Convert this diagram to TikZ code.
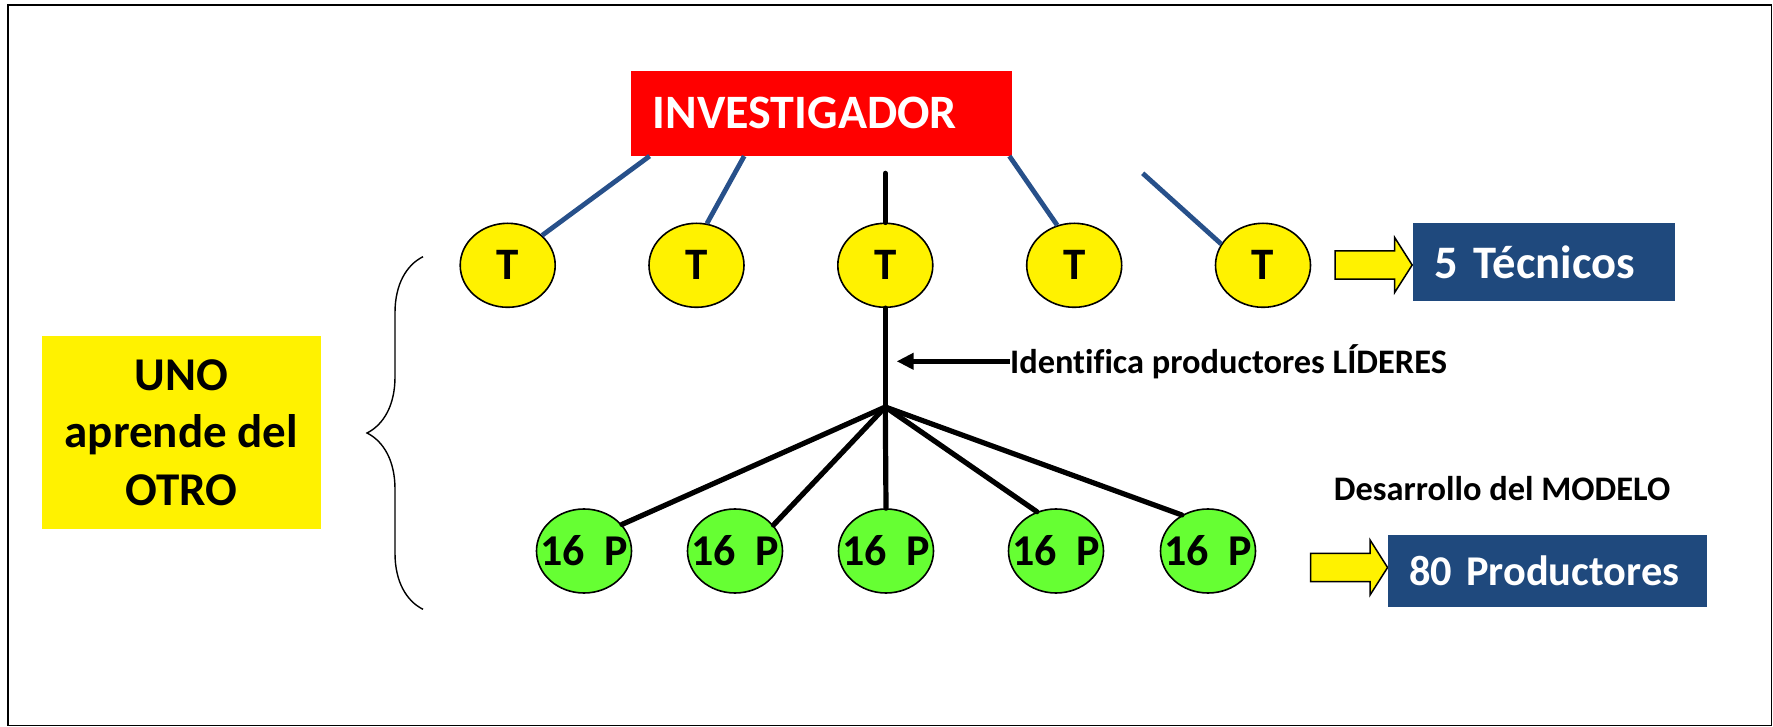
\documentclass[tikz,border=0pt]{standalone}
\usepackage{fontspec}
\setmainfont{Carlito}[Ligatures=NoCommon]
\usetikzlibrary{arrows.meta,shapes.geometric,shapes.arrows,%
	decorations.pathreplacing}
\usepackage{xcolor}
\definecolor{boxblue}{HTML}{1F497D}
\definecolor{lineblue}{HTML}{27508A}
\definecolor{prodgreen}{HTML}{66FF33}
\newcommand{\setfs}[2]{\fontsize{#1}{#2}\selectfont}

\tikzset{
	tecnode/.style={ellipse, draw, line width=0.8pt, fill=yellow,
		minimum width=47.5pt, minimum height=42pt, inner sep=0pt,
		font=\bfseries\setfs{22.5pt}{27pt}},
	prodnode/.style={ellipse, draw, line width=0.8pt, fill=prodgreen,
		minimum width=47.5pt, minimum height=42pt, inner sep=0pt,
		label={[font=\bfseries\setfs{22pt}{26pt}]center:#1}},
	bluebox/.style={fill=boxblue, text=white, align=left, inner ysep=0pt},
	yarrow/.style={single arrow, draw, line width=0.75pt, fill=yellow,
		minimum height=38.5pt, inner xsep=0pt, inner ysep=6.65pt,
		single arrow head extend=6.7pt, single arrow tip angle=115},
	tline/.style={lineblue, line width=2.4pt},
	pline/.style={line width=2.6pt, line cap=round},
	lbltext/.style={inner sep=0pt, font=\bfseries\setfs{17.2pt}{21pt}}
}

\begin{document}
\begin{tikzpicture}[x=0.5pt,y=-0.5pt]
	\useasboundingbox (0,0) rectangle (1773,727);
	\draw[line width=0.9pt] (8,5) rectangle (1771.5,725.5);
	
	\node[fill=red, text=white, align=left, minimum width=190.2pt, minimum height=42.35pt,
		text width=168.7pt, inner xsep=10.75pt, inner ysep=0pt,
		font=\bfseries\setfs{24pt}{28pt}] (inv) at (821.6,113.35) {INVESTIGADOR};
	\foreach \i/\x in {1/507.7,2/696.5,3/885.3,4/1074.2,5/1263}{
		\node[tecnode] (t\i) at (\x,265.3) {T};
	}
	\foreach \i/\x in {1/584,2/735,3/886,4/1056,5/1208}{
		\node[prodnode={16~~P}] (g\i) at (\x,551) {};
	}
	
	\coordinate (t3top) at (885.3,173.3);
	\coordinate (t5top) at (1142.7,173.3);
	\coordinate (hub) at (885.3,407);
	
	\draw[tline] ([xshift=9.3pt]inv.south west) -- (t1.41);
	\draw[tline] ([xshift=56.6pt]inv.south west) -- (t2.76);
	\draw[tline] ([xshift=-1.4pt]inv.south east) -- (t4.113);
	\draw[tline] (t5top) -- (t5.153);
	\draw[pline] (t3top) -- (t3.north);
	\draw[pline] (t3.south) -- (hub);
	\foreach \a/\j in {35/1,34/2,90/3,116/4,126/5}
		\draw[pline] (hub) -- (g\j.\a);
	
	\node[lbltext, anchor=west] (lid) at (1009.7,361.3) {Identifica productores LÍDERES};
	\coordinate (lidtip) at (896.7,364);
	\draw[line width=2.5pt, -{Triangle[length=8.5pt,width=8pt]}] (lid.west) -- (lid.west -| lidtip);
	\node[lbltext, anchor=base west] (dm) at (1333.5,500) {Desarrollo del MODELO};
	
	\node[yarrow] (a1) at (1369.2,265) {};
	\node[yarrow] (a2) at (1344.6,567.5) {};
	\node[bluebox, minimum width=131.2pt, minimum height=38.7pt, text width=109.2pt,
		inner xsep=11pt, font=\bfseries\setfs{23.3pt}{28pt}] (tecs) at (1543.8,262) {5 Técnicos};
	\node[bluebox, minimum width=159.3pt, minimum height=35.85pt, text width=138.7pt,
		inner xsep=10.3pt, font=\bfseries\setfs{21.2pt}{25pt}] (prods) at (1547.7,570.9) {80 Productores};
	
	\node[fill=yellow, align=center, minimum width=139.4pt, minimum height=96.65pt, inner sep=0pt,
		font=\bfseries\setfs{23.5pt}{28.75pt}] (uno) at (181.3,432.65) {UNO\\aprende del\\OTRO};
	\draw[line width=0.7pt, decorate, decoration={brace, amplitude=28pt}] (423,609.3) -- (423,256.7);
\end{tikzpicture}
\end{document}
